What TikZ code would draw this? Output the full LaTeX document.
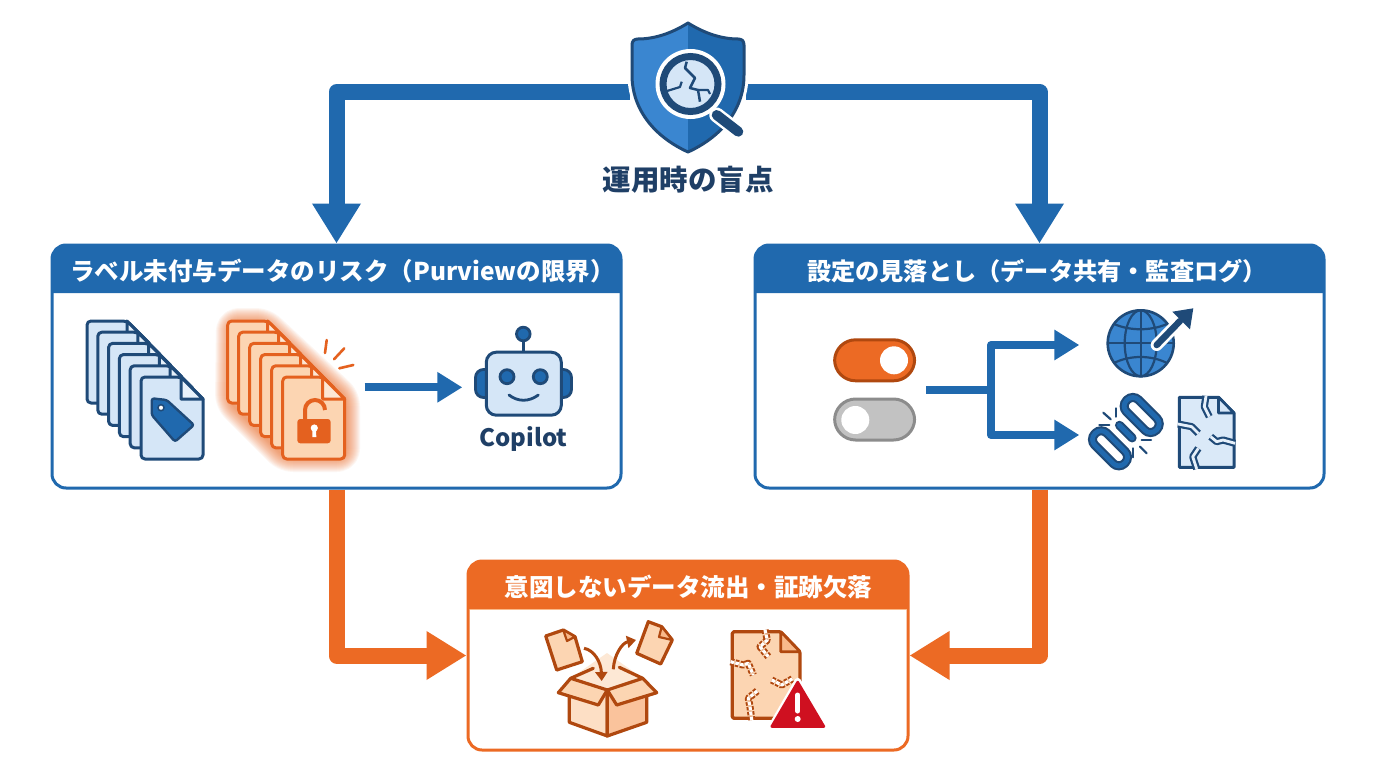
\documentclass[tikz,border=0pt]{standalone}
\usepackage{fontspec}
\usetikzlibrary{arrows.meta}
\newfontfamily\jp{Noto Sans CJK JP}
\setmainfont{Noto Sans}
\definecolor{navy}{HTML}{1F4A78}
\definecolor{ink}{HTML}{1F3F66}
\definecolor{bl}{HTML}{2069AE}
\definecolor{blmid}{HTML}{3A86D0}
\definecolor{pale}{HTML}{D5E6F7}
\definecolor{paler}{HTML}{E6F0FA}
\definecolor{org}{HTML}{EC6A24}
\definecolor{orgd}{HTML}{E4611F}
\definecolor{brn}{HTML}{B0480F}
\definecolor{peach}{HTML}{FCD5B2}
\definecolor{peachd}{HTML}{F9B98A}
\definecolor{redw}{HTML}{CF1020}
\tikzset{
 panel/.style={draw=#1,line width=3pt,rounded corners=14pt,fill=white,minimum width=569pt,minimum height=243pt,inner sep=0pt},
 headtext/.style={text=white,font=\jp\bfseries\fontsize{#1}{28pt}\selectfont,inner sep=0pt},
 bigarrow/.style={draw=#1,line width=16pt,line join=round,-{Triangle[length=40pt,width=46pt]},#1},
 thinarrow/.style={draw=bl,line width=8pt,line join=round,-{Triangle[length=25pt,width=29pt]},bl},
 docb/.style={draw=navy,line width=3pt,fill=pale,line join=round},
 doco/.style={draw=orgd,line width=3pt,fill=peach,line join=round},
 crackb/.style={draw=navy,line width=2.2pt,double=paler,double distance=2.8pt,line join=round},
 cracko/.style={draw=brn,line width=2pt,dash pattern=on 3.5pt off 1.5pt,double=white,double distance=3.2pt,line join=round},
 boxline/.style={draw=brn,line width=3.2pt,line join=round,line cap=round},
}
% one page of a stacked pile: #1 x, #2 y, #3 style
\newcommand{\pilepage}[3]{%
 \draw[#3,rounded corners=4pt] (#1,#2) -- (#1+40,#2) [sharp corners] -- (#1+62,#2+22) [rounded corners=4pt] -- (#1+62,#2+82) -- (#1,#2+82) -- cycle;
 \draw[#3,fill=white,fill opacity=.45] (#1+40,#2) -- (#1+40,#2+22) -- (#1+62,#2+22) -- cycle;
}
\begin{document}
\begin{tikzpicture}[x=1pt,y=-1pt]
\useasboundingbox (0,0) rectangle (1376,768);
\fill[white] (0,0) rectangle (1376,768);

% panels
\node[panel=bl] (pl) at (336.5,366.5) {};
\node[panel=bl] (pr) at (1039.5,366.5) {};
\node[panel=org,minimum width=440pt,minimum height=189pt] (pb) at (688,655.5) {};
\fill[bl] (52,293) [rounded corners=14pt] -- (52,245) -- (621,245) [sharp corners] -- (621,293) -- cycle;
\fill[bl] (755,293) [rounded corners=14pt] -- (755,245) -- (1324,245) [sharp corners] -- (1324,293) -- cycle;
\fill[org] (468,609) [rounded corners=14pt] -- (468,561) -- (908,561) [sharp corners] -- (908,609) -- cycle;
\draw[peachd,line width=1.5pt] (469.5,609.5) -- (906.5,609.5);
\node[headtext=24.5pt] (tl) at (342.5,271) {ラベル未付与データのリスク（Purviewの限界）};
\node[headtext=24.2pt] (tr) at (1037,271) {設定の見落とし（データ共有・監査ログ）};
\node[headtext=24.5pt] (tb) at (688.5,587) {意図しないデータ流出・証跡欠落};

% main connectors
\node[minimum width=116pt,minimum height=16pt,inner sep=0pt] (shield) at (688,92) {};
\draw[bigarrow=bl] (shield.west) -| (pl.north);
\draw[bigarrow=bl] (shield.east) -| (pr.north);
\draw[bigarrow=org] (pl.south) |- (pb.west);
\draw[bigarrow=org] (pr.south) |- (pb.east);

% shield
\def\shieldpath{(688,23) .. controls (672,33) and (655,39) .. (638,39) .. controls (634,39) and (632,41) .. (632,45) -- (632,75) .. controls (632,110) and (655,137) .. (688,152) .. controls (721,137) and (744,110) .. (744,75) -- (744,45) .. controls (744,41) and (742,39) .. (738,39) .. controls (721,39) and (704,33) .. (688,23) -- cycle}
\draw[white,line width=9pt,line join=round] \shieldpath;
\begin{scope}
 \clip \shieldpath;
 \fill[blmid] (620,15) rectangle (688,160);
 \fill[bl] (688,15) rectangle (760,160);
\end{scope}
\draw[navy,line width=3pt,line join=round] \shieldpath;
\draw[white,line width=15pt,line cap=round] (716.7,115) -- (738.3,131.7);
\draw[navy,line width=10pt,line cap=round] (716.7,115) -- (738.3,131.7);
\fill[white] (690.5,84) circle[radius=35];
\fill[pale] (690.5,84) circle[radius=26];
\draw[navy,line width=7pt] (690.5,84) circle[radius=27.5];
\draw[navy,line width=2.5pt,line join=round] (686.7,61.7) -- (685,68) -- (695,78) -- (690,88) -- (698,90) -- (700,101.7);
\draw[navy,line width=2.2pt,line join=round] (667,91) -- (680,87) -- (681.7,81.7);
\draw[navy,line width=2.2pt,line join=round] (698,90) -- (708,90) -- (710,94);
\node[text=ink,font=\jp\bfseries\fontsize{28.5pt}{32pt}\selectfont,inner sep=0pt] (title) at (688,180) {運用時の盲点};

% blue pile
\foreach \i in {0,...,5} { \pilepage{87+10.8*\i}{321+11.2*\i}{docb} }
\fill[bl,draw=navy,line width=2.4pt,line join=round,rounded corners=2.5pt] (151.7,398.3) -- (166.7,400) -- (194,425) -- (175,441.7) -- (151.7,415) -- cycle;
\draw[navy,fill=white,line width=1.5pt] (161,407.7) circle[radius=3];

% orange pile with glow
\foreach \w in {2,4,...,30} {
 \draw[org,line width=\w pt,opacity=.06,line join=round,rounded corners=8pt] (231,323) -- (264,323) -- (345,398) -- (345,457) -- (285,457) -- (230,402) -- cycle;
}
\foreach \i in {0,...,5} { \pilepage{227.7+11*\i}{321+11.2*\i}{doco} }
\fill[orgd,rounded corners=3pt] (297.3,419) rectangle (330.7,443.3);
\draw[orgd,line width=4pt] (305,419) -- (305,410) arc[start angle=180,end angle=0,x radius=10,y radius=-10];
\fill[white] (314.3,428) circle[radius=3.6];
\fill[white] (312.6,428) -- (316,428) -- (316.3,437) -- (312.3,437) -- cycle;
\draw[orgd,line width=2.6pt,line cap=round] (326.7,340) -- (325,353);
\draw[orgd,line width=2.6pt,line cap=round] (344.3,348.3) -- (334,359.3);
\draw[orgd,line width=2.6pt,line cap=round] (353.3,365) -- (339.3,368.3);

% robot
\draw[navy,fill=bl,line width=2.8pt,rounded corners=8pt] (475.5,369.5) rectangle (500,397.5);
\draw[navy,fill=bl,line width=2.8pt,rounded corners=8pt] (547,369.5) rectangle (571.5,397.5);
\draw[navy,line width=2.8pt] (523.3,338) -- (523.3,352);
\draw[navy,fill=bl,line width=2.8pt] (523.3,334) circle[radius=6.8];
\node[draw=navy,fill=pale,line width=3pt,rounded corners=10pt,minimum width=75pt,minimum height=63pt,inner sep=0pt] (robot) at (523.8,383.7) {};
\draw[navy,fill=bl,line width=2.8pt] (507,376.7) circle[radius=7];
\draw[navy,fill=bl,line width=2.8pt] (540.3,376.7) circle[radius=7];
\draw[navy,line width=2.8pt,line cap=round] (509,395) .. controls (518,402) and (529,402) .. (538.3,395);
\node[text=ink,font=\jp\bfseries\fontsize{24pt}{26pt}\selectfont,inner sep=0pt] (copilot) at (523.5,439) {Copilot};
\coordinate (la) at (364.7,387.3);
\coordinate (lb) at (462.3,387.3);
\draw[thinarrow] (la) -- (lb);

% toggles
\node[draw=brn,fill=org,line width=3pt,rounded corners=21pt,minimum width=80pt,minimum height=41pt,inner sep=0pt] (tg1) at (874.6,360.3) {};
\fill[white] (894,360.3) circle[radius=14];
\node[draw=black!45,fill=black!24,line width=3pt,rounded corners=21pt,minimum width=80pt,minimum height=41pt,inner sep=0pt] (tg2) at (874.6,419.5) {};
\fill[white] (855.3,420) circle[radius=14];
\coordinate (ta) at (926,390);
\coordinate (tj) at (991,390);
\coordinate (tu) at (1079.3,345);
\coordinate (td) at (1079.3,435);
\draw[bl,line width=8pt] (ta) -- (tj);
\draw[thinarrow] (tj) |- (tu);
\draw[thinarrow] (tj) |- (td);

% globe
\fill[blmid] (1140.7,343.3) circle[radius=33];
\draw[navy,line width=2.6pt] (1140.7,343.3) circle[radius=33];
\draw[navy,line width=2.2pt] (1140.7,310.3) -- (1140.7,376.3);
\draw[navy,line width=2.2pt] (1107.7,343.3) -- (1173.7,343.3);
\draw[navy,line width=2.2pt] (1140.7,343.3) ellipse[x radius=16,y radius=33];
\draw[navy,line width=2.2pt] (1114,324) .. controls (1130,331) and (1151,331) .. (1167,324);
\draw[navy,line width=2.2pt] (1114,363) .. controls (1130,355) and (1151,355) .. (1167,363);
\draw[white,line width=12pt,line cap=round] (1156.7,345) -- (1181,320);
\fill[white] (1166,308) -- (1197,304) -- (1194,335) -- cycle;
\draw[navy,line width=6.5pt,line cap=round] (1156.7,345) -- (1180,321);
\fill[navy] (1172.3,311.7) -- (1193.3,308.3) -- (1190,329.3) -- cycle;

% broken chain
\foreach \cx/\cy in {1110/448.3, 1141.7/415} {
 \begin{scope}[shift={(\cx,\cy)},rotate=-45]
  \draw[navy,line width=9pt,rounded corners=8pt] (-21,-8.5) rectangle (21,8.5);
  \draw[bl,line width=4.8pt,rounded corners=8pt] (-21,-8.5) rectangle (21,8.5);
 \end{scope}
}
\begin{scope}[shift={(1125.8,431.6)},rotate=-45]
 \draw[navy,line width=9pt,line cap=round] (-9,0) -- (9,0);
 \draw[bl,line width=5pt,line cap=round] (-9,0) -- (9,0);
\end{scope}
\foreach \ax/\ay/\bx/\by in {1116/408.3/1116/416.7,1103.3/412.7/1110.7/419.3,1099.3/424.7/1109.3/424.7,1141.7/440/1151/440,1140/446.7/1146.7/453.3,1133.3/448.3/1133.3/457.3} {
 \draw[navy,line width=2.2pt,line cap=round] (\ax,\ay) -- (\bx,\by);
}

% cracked blue document
\draw[navy,line width=3pt,fill=pale!70!paler,line join=round] (1179.3,397.3) -- (1218.5,397.3) -- (1234,413) -- (1234,467.3) -- (1179.3,467.3) -- cycle;
\draw[navy,line width=2.6pt,fill=pale,line join=round] (1218.5,397.3) -- (1218.5,413) -- (1234,413) -- cycle;
\draw[crackb] (1206,396) -- (1204.3,406.7) -- (1209.3,416.7);
\draw[crackb] (1178,424) -- (1191.7,426.7) -- (1198.3,433.3);
\draw[crackb] (1235,443.3) -- (1223,440) -- (1216.7,441.7) -- (1210.7,436.7);
\draw[crackb] (1196.7,469) -- (1192.7,456.7) -- (1198.3,448.3);

% box
\fill[peach!55!white] (570.7,678.3) -- (607,653) -- (642.7,678.3) -- (607.3,690) -- cycle;
\draw[boxline] (570.7,678.3) -- (593.3,668.3);
\draw[boxline] (642.7,678.3) -- (619.3,667.3);
\draw[boxline,fill=peach!75!white] (569.3,695) -- (569.3,722.3) -- (607.3,736) -- (607.3,690) -- cycle;
\draw[boxline,fill=peachd!85!white] (646.7,695) -- (646.7,722.3) -- (607.3,736) -- (607.3,690) -- cycle;
\draw[boxline,fill=peach] (558.3,692.7) -- (570.7,678.3) -- (607.3,690) -- (598.3,705) -- cycle;
\draw[boxline,fill=peach] (656.7,692.7) -- (642.7,678.3) -- (607.3,690) -- (616.7,705) -- cycle;
\draw[boxline,fill=peach] (545.7,636) -- (563.3,630) -- (575,636.7) -- (582.3,661.7) -- (556.7,670) -- cycle;
\draw[boxline,line width=2.2pt,fill=peachd] (563.3,630) -- (567,641) -- (575,636.7) -- cycle;
\draw[boxline,fill=peach] (648.3,621.7) -- (661.7,626.7) -- (672.3,640) -- (660.7,664) -- (636.7,653.3) -- cycle;
\draw[boxline,line width=2.2pt,fill=peachd] (661.7,626.7) -- (659,637) -- (672.3,640) -- cycle;
\coordinate (bi1) at (584,648.3);
\coordinate (bi2) at (601.7,681);
\coordinate (bo1) at (613.3,669.3);
\coordinate (bo2) at (636,640);
\draw[brn,line width=3pt,-{Triangle[length=9pt,width=12pt]}] (bi1) .. controls (594,650) and (601,662) .. (bi2);
\draw[brn,line width=3pt,-{Triangle[length=9pt,width=12pt]}] (bo1) .. controls (614,655) and (622,643) .. (bo2);

% cracked orange document
\draw[brn,line width=3.2pt,fill=peach,line join=round,rounded corners=1.5pt] (732.3,631.7) -- (780.7,631.7) -- (800,651.7) -- (800,718.3) -- (732.3,718.3) -- cycle;
\draw[brn,line width=2.6pt,fill=peachd,line join=round] (780.7,631.7) -- (780.7,651.7) -- (800,651.7) -- cycle;
\draw[cracko] (765,630) -- (767.3,640) -- (760,646.7) -- (768.3,656.7);
\draw[cracko] (730.5,661.7) -- (743.3,665) -- (748.3,663.3) -- (753.3,675);
\draw[cracko] (771.7,680) -- (781.7,685) -- (793.3,678.3);
\draw[cracko] (751.7,720) -- (750,706.7) -- (748.3,698.3) -- (758.3,690);
\fill[white,draw=white,line width=6pt,line join=round] (797.7,680.7) -- (825,727.3) -- (770.7,727.3) -- cycle;
\fill[redw,draw=redw,line width=2.5pt,line join=round] (797.7,682) -- (824,726.5) -- (771.7,726.5) -- cycle;
\draw[white,line width=5pt,line cap=round] (797.7,695) -- (797.7,711);
\fill[white] (797.7,719) circle[radius=3];
\end{tikzpicture}
\end{document}
